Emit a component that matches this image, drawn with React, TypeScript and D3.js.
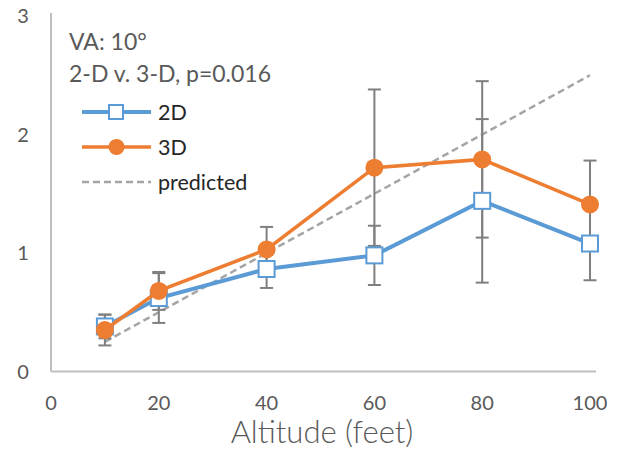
import React from "react";
import * as d3 from "d3";

// chart data
const altitudes = [10, 20, 40, 60, 80, 100];
const values2D = [0.38, 0.62, 0.865, 0.98, 1.44, 1.08];
const errors2D = [0.1, 0.21, 0.16, 0.25, 0.69, 0.31];
const values3D = [0.35, 0.68, 1.03, 1.72, 1.79, 1.41];
const errors3D = [0.13, 0.16, 0.19, 0.66, 0.66, 0.37];
const predicted = [0.25, 0.5, 1, 1.5, 2, 2.5];
const xTicks = [0, 20, 40, 60, 80, 100];
const yTicks = [0, 1, 2, 3];
const titleLines = ["VA: 10°", "2-D v. 3-D, p=0.016"];

const BLUE = "#5b9bd5";
const ORANGE = "#ed7d31";
const GRAY = "#a5a5a5";
const ERR = "#7f7f7f";
const AXIS = "#bfbfbf";
const TEXT = "#595959";
const FONT = "Lato, 'Open Sans', sans-serif";

type Pt = { x: number; y: number };

export default function App() {
  const width = 625;
  const height = 451;

  const x = d3.scaleLinear().domain([0, 100]).range([51, 590]);
  const y = d3.scaleLinear().domain([0, 3]).range([371.5, 16]);

  const pts = (vals: number[]): Pt[] => altitudes.map((a, i) => ({ x: a, y: vals[i] }));
  const line = d3
    .line<Pt>()
    .x((d) => x(d.x))
    .y((d) => y(d.y));

  const errBars = (vals: number[], errs: number[], key: string) =>
    altitudes.map((a, i) => {
      const cx = x(a);
      const top = y(vals[i] + errs[i]);
      const bot = y(vals[i] - errs[i]);
      return (
        <g key={key + i} stroke={ERR} strokeWidth={2}>
          <line x1={cx} x2={cx} y1={top} y2={bot} />
          <line x1={cx - 6.5} x2={cx + 6.5} y1={top} y2={top} />
          <line x1={cx - 6.5} x2={cx + 6.5} y1={bot} y2={bot} />
        </g>
      );
    });

  const predPts: Pt[] = [
    { x: altitudes[0], y: predicted[0] },
    { x: altitudes[altitudes.length - 1], y: predicted[predicted.length - 1] },
  ];

  return (
    <svg width={width} height={height} style={{ position: "absolute", left: 0, top: 0, background: "#fff" }}>
      {/* axes */}
      <line x1={x(0)} x2={596} y1={y(0)} y2={y(0)} stroke={AXIS} strokeWidth={2} />
      <line x1={x(0)} x2={x(0)} y1={y(0)} y2={13} stroke={AXIS} strokeWidth={2} />

      {yTicks.map((t) => (
        <text key={"y" + t} x={23} y={y(t)} dy="0.35em" textAnchor="middle" fontFamily={FONT} fontSize={20} fill={TEXT}>
          {t}
        </text>
      ))}
      {xTicks.map((t) => (
        <text key={"x" + t} x={x(t)} y={403} dy="0.35em" textAnchor="middle" fontFamily={FONT} fontSize={20} fill={TEXT}>
          {t}
        </text>
      ))}
      <text x={322} y={443} textAnchor="middle" fontFamily={FONT} fontSize={31} fontWeight={300} fill={TEXT}>
        Altitude (feet)
      </text>

      {/* predicted */}
      <path d={line(predPts) ?? ""} fill="none" stroke={GRAY} strokeWidth={2.5} strokeDasharray="7,4" />

      {errBars(values2D, errors2D, "e2")}
      {errBars(values3D, errors3D, "e3")}

      <path d={line(pts(values2D)) ?? ""} fill="none" stroke={BLUE} strokeWidth={4} />
      {pts(values2D).map((d, i) => (
        <rect key={"s" + i} x={x(d.x) - 8} y={y(d.y) - 8} width={16} height={16} fill="#fff" stroke={BLUE} strokeWidth={2} />
      ))}

      <path d={line(pts(values3D)) ?? ""} fill="none" stroke={ORANGE} strokeWidth={3.5} />
      {pts(values3D).map((d, i) => (
        <circle key={"c" + i} cx={x(d.x)} cy={y(d.y)} r={9} fill={ORANGE} />
      ))}

      {/* title text */}
      {titleLines.map((t, i) => (
        <text key={"t" + i} x={69} y={50 + i * 32} fontFamily={FONT} fontSize={23} fill={TEXT}>
          {t}
        </text>
      ))}

      {/* legend */}
      <g fontFamily={FONT} fontSize={21.5} fill="#262626">
        <line x1={82} x2={151} y1={112} y2={112} stroke={BLUE} strokeWidth={4} />
        <rect x={109} y={105} width={14} height={14} fill="#fff" stroke={BLUE} strokeWidth={2} />
        <text x={158} y={112} dy="0.35em">2D</text>
        <line x1={82} x2={151} y1={147} y2={147} stroke={ORANGE} strokeWidth={3.5} />
        <circle cx={116.5} cy={147} r={8} fill={ORANGE} />
        <text x={158} y={147} dy="0.35em">3D</text>
        <line x1={82} x2={151} y1={182} y2={182} stroke={GRAY} strokeWidth={2.5} strokeDasharray="7,4" />
        <text x={158} y={182} dy="0.35em">predicted</text>
      </g>
    </svg>
  );
}
